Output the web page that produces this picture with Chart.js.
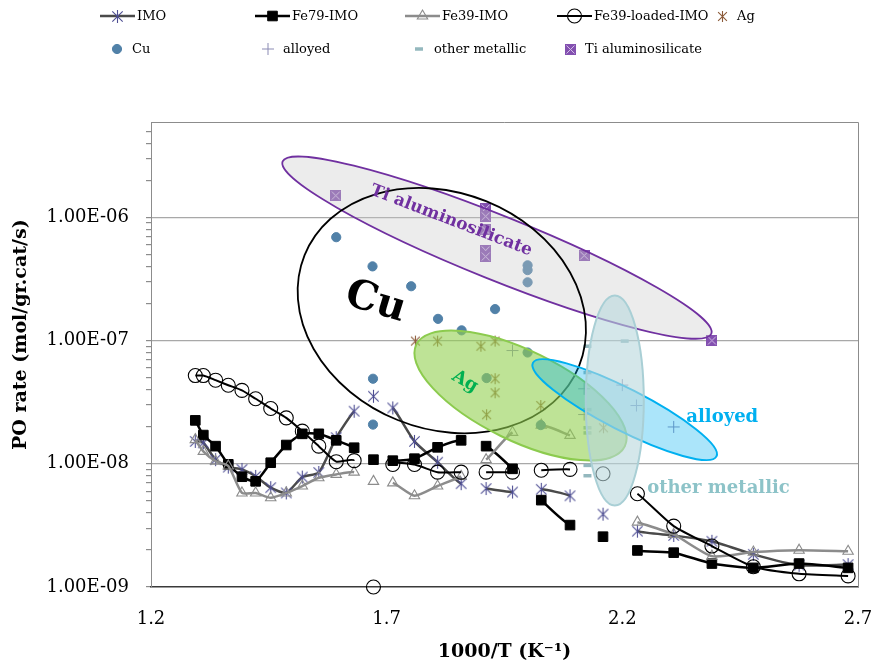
<!DOCTYPE html>
<html>
<head>
<meta charset="utf-8">
<script src="https://cdn.jsdelivr.net/npm/chart.js@4.4.0/dist/chart.umd.min.js"></script>
<style>
  html, body { margin: 0; padding: 0; background: #fff; }
</style>
</head>
<body>
<canvas id="rateChart" width="874" height="668"></canvas>
<script>
// 1000/T (K-1) shared by the four catalyst series
const invT = [1.294, 1.311, 1.337, 1.364, 1.393, 1.422, 1.454, 1.487, 1.521, 1.556, 1.593, 1.631, 1.672,
  1.713, 1.759, 1.808, 1.858, 1.911, 1.967, 2.028, 2.089, 2.159, 2.232, 2.309, 2.390, 2.478, 2.575, 2.679];
// experiment run of each point, lines only join points of the same run
const runId = [0,0,0,0,0,0,0,0,0,0,0,0, 1, 2,2,2,2, 3,3, 4,4, 5, 6,6,6,6,6,6];

const imoRate = [1.52e-8, 1.48e-8, 1.08e-8, 9.4e-9, 9.0e-9, 7.9e-9, 6.4e-9, 5.8e-9, 7.8e-9, 8.5e-9, 1.63e-8, 2.67e-8, 3.53e-8,
  2.84e-8, 1.52e-8, 1.03e-8, 6.9e-9, 6.3e-9, 5.9e-9, 6.2e-9, 5.5e-9, 3.9e-9, 2.84e-9, 2.62e-9, 2.35e-9, 1.84e-9, 1.50e-9, 1.52e-9];
const fe79Rate = [2.25e-8, 1.71e-8, 1.39e-8, 9.9e-9, 7.85e-9, 7.2e-9, 1.02e-8, 1.42e-8, 1.75e-8, 1.75e-8, 1.55e-8, 1.35e-8, 1.08e-8,
  1.06e-8, 1.10e-8, 1.36e-8, 1.55e-8, 1.39e-8, 9.1e-9, 5.07e-9, 3.18e-9, 2.56e-9, 1.98e-9, 1.90e-9, 1.55e-9, 1.43e-9, 1.55e-9, 1.43e-9];
const fe39Rate = [1.57e-8, 1.26e-8, 1.05e-8, 9.6e-9, 5.8e-9, 5.8e-9, 5.3e-9, 5.8e-9, 6.6e-9, 7.7e-9, 8.2e-9, 8.55e-9, 7.2e-9,
  7.0e-9, 5.5e-9, 6.6e-9, 7.9e-9, 1.08e-8, 1.80e-8, 2.06e-8, 1.70e-8, null, 3.36e-9, 2.67e-9, 1.78e-9, 1.92e-9, 1.99e-9, 1.95e-9];
const fe39LoadedRate = [5.2e-8, 5.2e-8, 4.77e-8, 4.34e-8, 3.94e-8, 3.37e-8, 2.81e-8, 2.36e-8, 1.84e-8, 1.39e-8, 1.04e-8, 1.06e-8, 1.0e-9,
  9.86e-9, 9.86e-9, 8.55e-9, 8.55e-9, 8.55e-9, 8.55e-9, 8.87e-9, 9.0e-9, 8.3e-9, 5.71e-9, 3.12e-9, 2.15e-9, 1.46e-9, 1.28e-9, 1.23e-9];

// literature points
const agX = [1.761, 1.808, 1.900, 1.930, 1.930, 1.930, 1.912, 2.027, 2.160];
const agRate = [9.9e-8, 9.9e-8, 9.0e-8, 9.9e-8, 4.9e-8, 3.77e-8, 2.5e-8, 2.97e-8, 1.96e-8];
const cuX = [1.593, 1.670, 1.752, 1.809, 1.859, 1.930, 1.999, 1.999, 1.999, 1.999, 1.671, 1.671, 1.912, 2.027];
const cuRate = [6.9e-7, 4.0e-7, 2.76e-7, 1.50e-7, 1.21e-7, 1.80e-7, 4.08e-7, 3.73e-7, 2.97e-7, 8.0e-8, 4.9e-8, 2.08e-8, 4.96e-8, 2.06e-8];
const alloyX = [1.967, 2.119, 2.119, 2.200, 2.230, 2.309];
const alloyRate = [8.3e-8, 4.06e-8, 2.51e-8, 4.35e-8, 2.97e-8, 1.99e-8];
const otherX = [2.205, 2.126, 2.126, 2.126, 2.126, 2.126, 2.126, 2.126];
const otherRate = [9.9e-8, 9.0e-8, 5.5e-8, 2.75e-8, 1.96e-8, 1.78e-8, 9.7e-9, 8.0e-9];
const tiX = [1.592, 1.910, 1.910, 1.910, 1.910, 1.910, 2.119, 2.390];
const tiRate = [1.50e-6, 1.18e-6, 1.02e-6, 7.9e-7, 5.4e-7, 4.8e-7, 4.9e-7, 1.0e-7];

const xTickValues = [1.2, 1.7, 2.2, 2.7];
const yTickValues = [1e-9, 1e-8, 1e-7, 1e-6];
const yTickLabels = ['1.00E-09', '1.00E-08', '1.00E-07', '1.00E-06'];
const yMax = 5.94e-6;

const serif = "'DejaVu Serif', Georgia, serif";
Chart.defaults.font.family = serif;
Chart.defaults.color = '#000';

// little canvas markers for the Excel style symbols
function starMark(color, r, lw) {
  const s = Math.ceil(2 * r + 2);
  const c = document.createElement('canvas');
  c.width = s; c.height = s;
  const g = c.getContext('2d');
  const m = s / 2, d = r * 0.8;
  g.strokeStyle = color; g.lineWidth = lw;
  g.beginPath();
  g.moveTo(m - d, m - d); g.lineTo(m + d, m + d);
  g.moveTo(m + d, m - d); g.lineTo(m - d, m + d);
  g.moveTo(m, m - r); g.lineTo(m, m + r);
  g.stroke();
  return c;
}
function tiMark() {
  const c = document.createElement('canvas');
  c.width = 11; c.height = 11;
  const g = c.getContext('2d');
  g.fillStyle = '#8350B0'; g.fillRect(0, 0, 11, 11);
  g.strokeStyle = '#D2BDE6'; g.lineWidth = 1;
  g.beginPath();
  g.moveTo(1.5, 1.5); g.lineTo(9.5, 9.5);
  g.moveTo(9.5, 1.5); g.lineTo(1.5, 9.5);
  g.stroke();
  return c;
}

function pts(xs, ys) { return xs.map((x, i) => ({x: x, y: ys[i]})); }
function runBreak(ctx) {
  return runId[ctx.p0DataIndex] !== runId[ctx.p1DataIndex] ? 'rgba(0,0,0,0)' : undefined;
}

const lineBase = { showLine: true, tension: 0.2, clip: false, segment: { borderColor: runBreak } };

const datasets = [
  Object.assign({ label: 'IMO', data: pts(invT, imoRate), borderColor: '#4A4A4A', borderWidth: 2.5,
    pointStyle: starMark('#4E4E93', 6.5, 1.1), pointRadius: 6 }, lineBase),
  Object.assign({ label: 'Fe79-IMO', data: pts(invT, fe79Rate), borderColor: '#000', borderWidth: 2.5,
    pointStyle: 'rect', pointRadius: 6.8, pointBackgroundColor: '#000', pointBorderColor: '#000', pointBorderWidth: 1 }, lineBase),
  Object.assign({ label: 'Fe39-IMO', data: pts(invT, fe39Rate), borderColor: '#8C8C8C', borderWidth: 2.5,
    pointStyle: 'triangle', pointRadius: 6, pointBackgroundColor: 'rgba(255,255,255,0)', pointBorderColor: '#8C8C8C', pointBorderWidth: 1.1 }, lineBase),
  Object.assign({ label: 'Fe39-loaded-IMO', data: pts(invT, fe39LoadedRate), borderColor: '#000', borderWidth: 2,
    pointStyle: 'circle', pointRadius: 7, pointBackgroundColor: 'rgba(255,255,255,0)', pointBorderColor: '#000', pointBorderWidth: 1.1 }, lineBase),
  { label: 'Ag', data: pts(agX, agRate), showLine: false, clip: false,
    pointStyle: starMark('#8C5B3A', 5.5, 1.1), pointRadius: 5 },
  { label: 'Cu', data: pts(cuX, cuRate), showLine: false, clip: false,
    pointStyle: 'circle', pointRadius: 4.6, pointBackgroundColor: '#5181A8', pointBorderColor: '#5181A8', pointBorderWidth: 1 },
  { label: 'alloyed', data: pts(alloyX, alloyRate), showLine: false, clip: false,
    pointStyle: 'cross', pointRadius: 6, pointBackgroundColor: '#8B8BB4', pointBorderColor: '#8B8BB4', pointBorderWidth: 1 },
  { label: 'other metallic', data: pts(otherX, otherRate), showLine: false, clip: false,
    pointStyle: 'line', pointRadius: 4, pointBackgroundColor: '#94B8BE', pointBorderColor: '#94B8BE', pointBorderWidth: 3.5 },
  { label: 'Ti aluminosilicate', data: pts(tiX, tiRate), showLine: false, clip: false,
    pointStyle: tiMark(), pointRadius: 5.5 }
];
datasets.forEach((d, i) => { d.order = datasets.length - i; });

// highlighted regions (centre in data units, radii in px)
const regions = [
  { x: 1.934, y: 5.68e-7, rx: 231, ry: 32, rot: 21.9, fill: 'rgba(200,200,200,0.35)', stroke: '#7030A0', lw: 1.8 },
  { x: 1.817, y: 1.75e-7, rx: 148, ry: 118, rot: 22, fill: null, stroke: '#000', lw: 1.8 },
  { x: 1.984, y: 3.58e-8, rx: 116, ry: 45, rot: 26, fill: 'rgba(146,208,80,0.6)', stroke: '#8CCB4E', lw: 2 },
  { x: 2.205, y: 2.75e-8, rx: 103, ry: 21, rot: 27, fill: 'rgba(0,176,240,0.33)', stroke: '#00B0F0', lw: 2 },
  { x: 2.184, y: 3.26e-8, rx: 29, ry: 105, rot: 0, fill: 'rgba(183,215,220,0.6)', stroke: '#A9CFD5', lw: 2 }
];
const regionLabels = [
  { text: 'Ti aluminosilicate', x: 1.837, y: 9.4e-7, rot: 21, size: 17, color: '#7030A0' },
  { text: 'Cu', x: 1.676, y: 2.03e-7, rot: 17, size: 40, color: '#000' },
  { text: 'Ag', x: 1.866, y: 4.65e-8, rot: 30, size: 18, color: '#00B050' },
  { text: 'alloyed', x: 2.412, y: 2.38e-8, rot: 0, size: 18, color: '#00B0F0' },
  { text: 'other metallic', x: 2.404, y: 6.31e-9, rot: 0, size: 18, color: '#8DC3C8' }
];

const regionPlugin = {
  id: 'regions',
  beforeDatasetsDraw(chart) {
    const {ctx, chartArea: a} = chart;
    ctx.save();
    ctx.strokeStyle = '#8C8C8C';
    ctx.lineWidth = 1;
    ctx.beginPath();
    ctx.moveTo(a.left, a.top + 0.5); ctx.lineTo(a.right + 0.5, a.top + 0.5); ctx.lineTo(a.right + 0.5, a.bottom);
    ctx.stroke();
    ctx.restore();
  },
  afterDatasetsDraw(chart) {
    const {ctx} = chart;
    const xs = chart.scales.x, ys = chart.scales.y;
    ctx.save();
    regions.forEach(r => {
      ctx.beginPath();
      ctx.ellipse(xs.getPixelForValue(r.x), ys.getPixelForValue(r.y), r.rx, r.ry, r.rot * Math.PI / 180, 0, Math.PI * 2);
      if (r.fill) { ctx.fillStyle = r.fill; ctx.fill(); }
      ctx.strokeStyle = r.stroke; ctx.lineWidth = r.lw; ctx.stroke();
    });
    regionLabels.forEach(l => {
      ctx.save();
      ctx.translate(xs.getPixelForValue(l.x), ys.getPixelForValue(l.y));
      ctx.rotate(l.rot * Math.PI / 180);
      ctx.font = 'bold ' + l.size + 'px ' + serif;
      ctx.fillStyle = l.color;
      ctx.textAlign = 'center';
      ctx.textBaseline = 'middle';
      ctx.fillText(l.text, 0, 0);
      ctx.restore();
    });
    ctx.restore();
  }
};

// legend laid out in fixed columns like the original
const legendSlots = [
  {x: 100, y: 16, line: true}, {x: 255, y: 16, line: true}, {x: 405, y: 16, line: true},
  {x: 557, y: 16, line: true}, {x: 722, y: 16},
  {x: 117, y: 49}, {x: 268, y: 49}, {x: 419, y: 49}, {x: 570, y: 49}
];

function drawMarker(ctx, ds, x, y) {
  const style = ds.pointStyle;
  if (typeof style === 'object') {
    ctx.drawImage(style, Math.round(x - style.width / 2), Math.round(y - style.height / 2));
    return;
  }
  const r = ds.pointRadius;
  ctx.save();
  ctx.lineWidth = ds.pointBorderWidth;
  ctx.strokeStyle = ds.pointBorderColor;
  ctx.fillStyle = ds.pointBackgroundColor;
  ctx.beginPath();
  if (style === 'circle') {
    ctx.arc(x, y, r, 0, Math.PI * 2);
  } else if (style === 'rect') {
    const s = r * Math.SQRT1_2;
    ctx.rect(x - s, y - s, 2 * s, 2 * s);
  } else if (style === 'triangle') {
    for (let k = 0; k < 3; k++) {
      const t = k * 2 * Math.PI / 3;
      if (k === 0) ctx.moveTo(x + Math.sin(t) * r, y - Math.cos(t) * r);
      else ctx.lineTo(x + Math.sin(t) * r, y - Math.cos(t) * r);
    }
    ctx.closePath();
  } else if (style === 'cross') {
    ctx.moveTo(x, y - r); ctx.lineTo(x, y + r);
    ctx.moveTo(x - r, y); ctx.lineTo(x + r, y);
  } else if (style === 'line') {
    ctx.moveTo(x - r, y); ctx.lineTo(x + r, y);
  }
  if (style === 'circle' || style === 'rect' || style === 'triangle') ctx.fill();
  ctx.stroke();
  ctx.restore();
}

const legendPlugin = {
  id: 'columnLegend',
  afterDraw(chart) {
    const ctx = chart.ctx;
    ctx.save();
    ctx.font = '13px ' + serif;
    ctx.fillStyle = '#000';
    ctx.textBaseline = 'middle';
    ctx.textAlign = 'left';
    datasets.forEach((ds, i) => {
      const slot = legendSlots[i];
      let tx;
      if (slot.line) {
        ctx.strokeStyle = ds.borderColor;
        ctx.lineWidth = ds.borderWidth;
        ctx.beginPath();
        ctx.moveTo(slot.x, slot.y); ctx.lineTo(slot.x + 35, slot.y);
        ctx.stroke();
        drawMarker(ctx, ds, slot.x + 17.5, slot.y);
        tx = slot.x + 37;
      } else {
        drawMarker(ctx, ds, slot.x, slot.y);
        tx = slot.x + 15;
      }
      ctx.fillStyle = '#000';
      ctx.fillText(ds.label, tx, slot.y + 1);
    });
    ctx.restore();
  }
};

function isDecade(v) {
  return yTickValues.some(t => Math.abs(v - t) / t < 1e-6);
}

new Chart(document.getElementById('rateChart'), {
  type: 'scatter',
  data: { datasets: datasets },
  options: {
    responsive: false,
    animation: false,
    events: [],
    layout: { padding: { top: 122, right: 16, left: 0, bottom: 0 } },
    plugins: { legend: { display: false }, tooltip: { enabled: false } },
    scales: {
      x: {
        type: 'linear',
        min: 1.2,
        max: 2.7,
        afterBuildTicks: axis => { axis.ticks = xTickValues.map(v => ({value: v})); },
        afterFit: axis => { axis.height = 81; axis.paddingLeft = 0; axis.paddingRight = 0; },
        grid: { display: false, drawTicks: false },
        border: { display: true, color: '#3A3A3A', width: 1.5 },
        ticks: { autoSkip: false, maxRotation: 0, padding: 22, font: { size: 18 }, color: '#000',
          callback: v => v.toFixed(1) },
        title: { display: true, text: '1000/T (K\u207B\u00B9)', font: { size: 19, weight: 'bold' }, color: '#000',
          padding: { top: 0, bottom: 5 } }
      },
      y: {
        type: 'logarithmic',
        min: 1e-9,
        max: yMax,
        afterBuildTicks: axis => {
          const ticks = [];
          yTickValues.forEach(v => {
            for (let k = 1; k <= 9; k++) {
              const t = v * k;
              if (t <= yMax) ticks.push({value: t, major: k === 1});
            }
          });
          axis.ticks = ticks;
        },
        afterFit: axis => { axis.width = 151; axis.paddingTop = 0; axis.paddingBottom = 0; },
        grid: {
          color: c => (c.tick && isDecade(c.tick.value) && c.tick.value > 1.5e-9) ? '#A8A8A8' : 'rgba(0,0,0,0)',
          tickColor: '#8C8C8C',
          tickLength: 5,
          lineWidth: 1.2
        },
        border: { display: true, color: '#8C8C8C', width: 1 },
        ticks: { autoSkip: false, padding: 17, font: { size: 18 }, color: '#000',
          callback: v => {
            const i = yTickValues.findIndex(t => Math.abs(v - t) / t < 1e-6);
            return i >= 0 ? yTickLabels[i] : '';
          } },
        title: { display: true, text: '\u00A0\u00A0\u00A0\u00A0\u00A0\u00A0PO rate (mol/gr.cat/s)', font: { size: 19, weight: 'bold' },
          color: '#000', padding: { top: 10, bottom: 0 } }
      }
    }
  },
  plugins: [regionPlugin, legendPlugin]
});
</script>
</body>
</html>
